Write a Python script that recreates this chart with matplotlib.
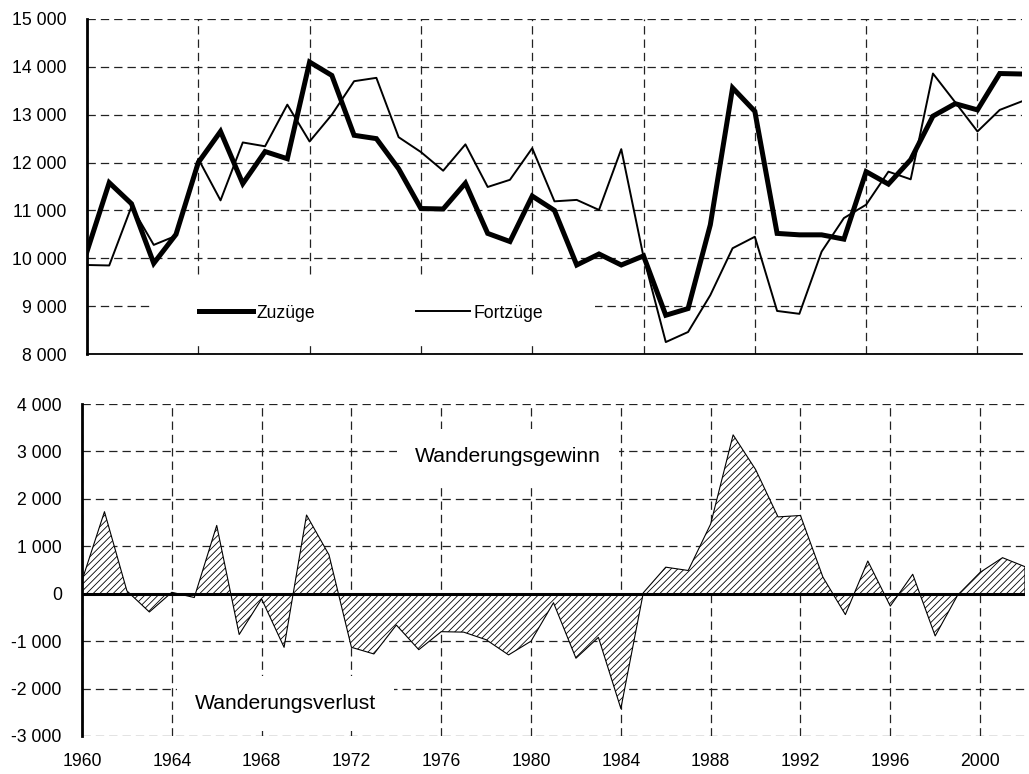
import numpy as np
import matplotlib
matplotlib.use("Agg")
from matplotlib import pyplot as plt
from matplotlib.ticker import FuncFormatter, MultipleLocator
from matplotlib.patches import Rectangle

plt.rcParams['font.family'] = ['Liberation Sans', 'DejaVu Sans']
plt.rcParams['lines.scale_dashes'] = False
plt.rcParams['hatch.linewidth'] = 0.6

# Jahre
years = np.arange(1960, 2003)

# Zuzuege (dicke Linie)
zuzuege = [10140, 11580, 11140, 9895, 10500, 12000, 12650, 11560, 12230, 12080,
           14100, 13820, 12570, 12500, 11870, 11040, 11030, 11570, 10520, 10350,
           11300, 11000, 9860, 10090, 9860, 10050, 8810, 8950, 10700, 13560,
           13070, 10520, 10490, 10490, 10400, 11810, 11550, 12060, 12970, 13230,
           13100, 13860, 13850]

# Fortzuege (duenne Linie)
fortzuege = [9860, 9850, 11080, 10280, 10470, 12080, 11210, 12420, 12340, 13210,
             12440, 13000, 13700, 13770, 12530, 12220, 11830, 12380, 11490, 11640,
             12300, 11190, 11220, 11010, 12280, 10030, 8250, 8460, 9230, 10210,
             10450, 8900, 8840, 10140, 10840, 11120, 11810, 11650, 13860, 13260,
             12650, 13100, 13280]

saldo = np.array(zuzuege) - np.array(fortzuege)

def tausend(v, pos):
    return f"{int(round(v)):,}".replace(",", " ")

grid_style = dict(color='#222222', linewidth=0.9, linestyle=(0, (6, 3.6)))
fs = 12.7

fig = plt.figure(figsize=(10.29, 7.74), dpi=100)

# oberes Diagramm
ax1 = fig.add_axes([0.0845, 0.5426, 0.9087, 0.4329])
ax1.set_axisbelow(True)
ax1.plot(years, zuzuege, color='black', linewidth=3.6, label='Zuzüge',
         solid_joinstyle='miter', zorder=3)
ax1.plot(years, fortzuege, color='black', linewidth=1.4, label='Fortzüge', zorder=3)
ax1.set_xlim(1960, 2002)
ax1.set_ylim(8000, 15000)
ax1.xaxis.set_major_locator(MultipleLocator(5))
ax1.yaxis.set_major_locator(MultipleLocator(1000))
ax1.yaxis.set_major_formatter(FuncFormatter(tausend))
ax1.set_xticklabels([])
ax1.tick_params(axis='both', length=0, labelsize=fs)
ax1.tick_params(axis='y', pad=14.5)
ax1.grid(True, **grid_style)
for s in ['top', 'right']:
    ax1.spines[s].set_visible(False)
ax1.spines['left'].set_linewidth(2.0)
ax1.spines['bottom'].set_linewidth(1.3)
ax1.add_patch(Rectangle((0.0674, 0.0358), 0.4759, 0.1911, transform=ax1.transAxes,
                        facecolor='white', edgecolor='none', zorder=1))
ax1.legend(loc='center left', bbox_to_anchor=(0.1198, 0.1224), ncol=2,
           frameon=False, fontsize=fs, borderpad=0, borderaxespad=0,
           handlelength=3.05, handletextpad=0.23, columnspacing=5.7)

# unteres Diagramm
ax2 = fig.add_axes([0.0797, 0.0491, 0.9164, 0.4289])
ax2.set_axisbelow(True)
ax2.fill_between(years, saldo, 0, facecolor='white', edgecolor='black',
                 hatch='/////', linewidth=0.8, zorder=2)
ax2.axhline(0, color='black', linewidth=2.2, zorder=3)
ax2.set_xlim(1960, 2002)
ax2.set_ylim(-3000, 4000)
ax2.xaxis.set_major_locator(MultipleLocator(4))
ax2.yaxis.set_major_locator(MultipleLocator(1000))
ax2.yaxis.set_major_formatter(FuncFormatter(tausend))
ax2.tick_params(axis='both', length=0, labelsize=fs)
ax2.tick_params(axis='y', pad=14.5)
ax2.tick_params(axis='x', pad=12)
ax2.grid(True, **grid_style)
for s in ['top', 'right', 'bottom']:
    ax2.spines[s].set_visible(False)
ax2.spines['left'].set_linewidth(2.0)
box = dict(boxstyle='square,pad=0.85', facecolor='white', edgecolor='none')
ax2.text(1974.84, 2890, 'Wanderungsgewinn', fontsize=15.2, ha='left', va='center',
         bbox=box, zorder=1)
ax2.text(1965.04, -2310, 'Wanderungsverlust', fontsize=15.2, ha='left', va='center',
         bbox=box, zorder=1)

fig.savefig('out.png', dpi=100)
